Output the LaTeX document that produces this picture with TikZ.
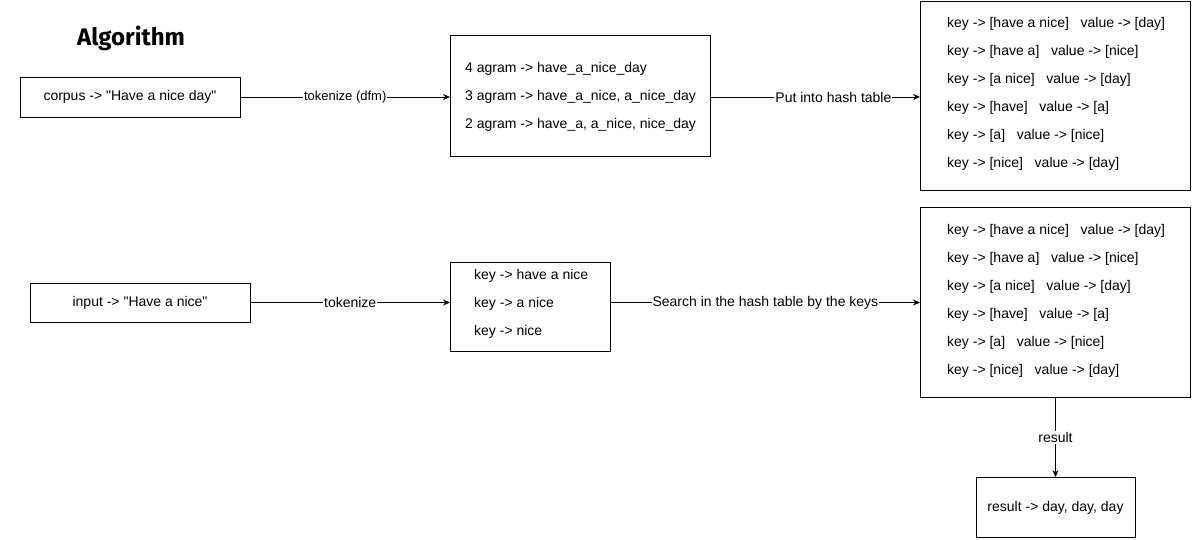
\documentclass[tikz,border=0pt]{standalone}
\usepackage{fontspec}
\setmainfont{Liberation Sans}[Ligatures=TeXOff]
\newfontfamily\titlefont{Fira Sans}
\usetikzlibrary{arrows.meta}
\tikzset{
  box/.style={draw=black, line width=0.8pt, fill=white, inner sep=0pt},
  listbox/.style={box, anchor=north west},
  lines/.style={anchor=north west, align=left, inner sep=0pt, font=\fontsize{14}{28}\selectfont},
  conn/.style={draw=black, line width=0.8pt, -{Stealth[length=7pt,width=6pt]}},
  elabel/.style={fill=white, inner sep=1pt, font=\fontsize{14}{16}\selectfont},
  txt/.style={font=\fontsize{14}{16}\selectfont}
}
\begin{document}
\begin{tikzpicture}[x=1pt,y=-1pt]
\useasboundingbox (0,0) rectangle (1192,539);
% title
\node[font=\titlefont\fontsize{24}{28}\selectfont\bfseries] (title) at (131,38) {Algorithm};
% top row
\node[box, txt, minimum width=220pt, minimum height=40pt] (corpus) at (130,97) {corpus -> "Have a nice day"};
\node[listbox, minimum height=121pt, minimum width=260pt] (agram) at (450,35) {};
\node[lines] (agramt) at (465,62)
  {4 agram -> have\_a\_nice\_day\\
   3 agram -> have\_a\_nice, a\_nice\_day\\
   2 agram -> have\_a, a\_nice, nice\_day};
\node[listbox, minimum width=270pt, minimum height=189pt] (hash1) at (920,1) {};
\node[lines] (hash1t) at (947,17)
  {key -> [have a nice]\ \ \ value -> [day]\\
   key -> [have a]\ \ \ value -> [nice]\\
   key -> [a nice]\ \ \ value -> [day]\\
   key -> [have]\ \ \ value -> [a]\\
   key -> [a]\ \ \ value -> [nice]\\
   key -> [nice]\ \ \ value -> [day]};
% bottom row
\node[box, txt, minimum width=220pt, minimum height=39pt] (input) at (140,302.5) {input -> "Have a nice"};
\node[listbox, minimum width=160pt, minimum height=89pt] (keys) at (450,262) {};
\node[lines] (keyst) at (474,269)
  {key -> have a nice\\
   key -> a nice\\
   key -> nice};
\node[listbox, minimum width=270pt, minimum height=190pt] (hash2) at (920,207) {};
\node[lines] (hash2t) at (947,224)
  {key -> [have a nice]\ \ \ value -> [day]\\
   key -> [have a]\ \ \ value -> [nice]\\
   key -> [a nice]\ \ \ value -> [day]\\
   key -> [have]\ \ \ value -> [a]\\
   key -> [a]\ \ \ value -> [nice]\\
   key -> [nice]\ \ \ value -> [day]};
\node[box, txt, minimum width=159pt, minimum height=60pt] (result) at (1055.5,507.5) {result -> day, day, day};
% connectors
\draw[conn] (corpus.east) -- (corpus.east -| agram.west) node[elabel, midway, font=\fontsize{13}{15}\selectfont] {tokenize (dfm)};
\draw[conn] (corpus.east -| agram.east) -- (corpus.east -| hash1.west) node[elabel, pos=0.586] {Put into hash table};
\draw[conn] (input.east) -- (input.east -| keys.west) node[elabel, midway] {tokenize};
\draw[conn] (input.east -| keys.east) -- (input.east -| hash2.west) node[elabel, midway] {Search in the hash table by the keys};
\draw[conn] (hash2.south -| result.north) -- (result.north) node[elabel, midway] {result};
\end{tikzpicture}
\end{document}
